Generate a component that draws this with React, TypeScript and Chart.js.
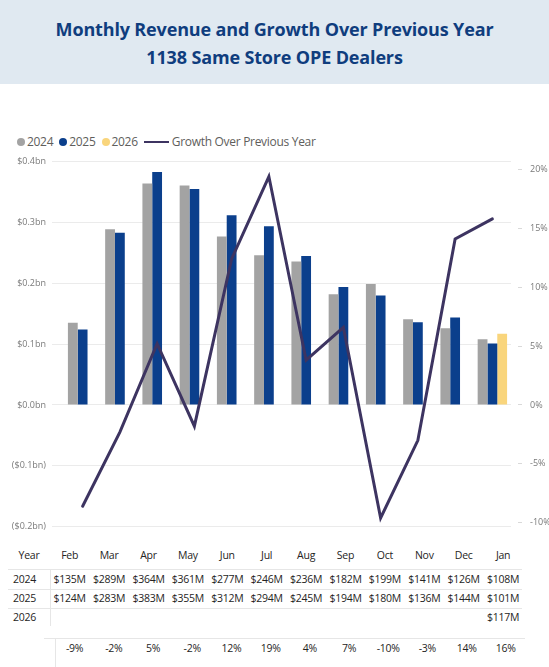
import React, { useEffect, useRef } from 'react';
import { Chart, registerables } from 'chart.js';

Chart.register(...registerables);

// Months shown on the category axis and in the table header
const months = ['Feb', 'Mar', 'Apr', 'May', 'Jun', 'Jul', 'Aug', 'Sep', 'Oct', 'Nov', 'Dec', 'Jan'];

// Monthly revenue in $M
const revenue2024 = [135, 289, 364, 361, 277, 246, 236, 182, 199, 141, 126, 108];
const revenue2025 = [124, 283, 383, 355, 312, 294, 245, 194, 180, 136, 144, 101];
const revenue2026: (number | null)[] = [null, null, null, null, null, null, null, null, null, null, null, 117];

// Growth over previous year, %
const growthPct = [-8.6, -2.3, 5.2, -1.8, 12.4, 19.4, 3.8, 6.6, -9.6, -3.0, 14.1, 15.8];

// Axis ticks
const revenueTicks = [-200, -100, 0, 100, 200, 300, 400];
const growthTicks = [-10, -5, 0, 5, 10, 15, 20];

const FONT = "'Segoe UI', 'Open Sans', sans-serif";
const C2024 = '#a3a3a3';
const C2025 = '#0b3f8c';
const C2026 = '#f9d57c';
const CLINE = '#3d3461';
const GRID = '#ebebeb';

const fmtBn = (v: number) => {
  const s = '$' + (Math.abs(v) / 1000).toFixed(1) + 'bn';
  return v < 0 ? '(' + s + ')' : s;
};
const fmtM = (v: number | null) => (v == null ? '' : '$' + v + 'M');

function RevenueChart() {
  const ref = useRef<HTMLCanvasElement>(null);
  useEffect(() => {
    if (!ref.current) return;
    const chart = new Chart(ref.current, {
      type: 'bar',
      data: {
        labels: months,
        datasets: [
          {
            type: 'line',
            label: 'Growth Over Previous Year',
            data: growthPct,
            yAxisID: 'y1',
            borderColor: CLINE,
            borderWidth: 3,
            pointRadius: 0,
            tension: 0,
            borderCapStyle: 'round',
            order: 0,
          } as any,
          {
            label: '2024',
            data: revenue2024,
            yAxisID: 'y',
            backgroundColor: C2024,
            categoryPercentage: 0.79,
            barPercentage: 1,
            order: 1,
          },
          {
            label: '2025',
            data: revenue2025,
            yAxisID: 'y',
            backgroundColor: C2025,
            categoryPercentage: 0.79,
            barPercentage: 1,
            order: 1,
          },
          {
            label: '2026',
            data: revenue2026,
            yAxisID: 'y',
            backgroundColor: C2026,
            categoryPercentage: 0.79,
            barPercentage: 1,
            order: 1,
          },
        ],
      },
      options: {
        animation: false,
        responsive: false,
        devicePixelRatio: 1,
        layout: { padding: { top: 21.7, bottom: 8.3, left: 0, right: 0 } },
        plugins: { legend: { display: false }, tooltip: { enabled: false } },
        scales: {
          x: { display: false, offset: true, grid: { display: false } },
          y: {
            position: 'left',
            min: -200,
            max: 400,
            afterBuildTicks: (s: any) => {
              s.ticks = revenueTicks.map((v) => ({ value: v }));
            },
            afterFit: (s: any) => {
              s.width = 64;
            },
            border: { display: false },
            grid: { color: GRID, lineWidth: 1, drawTicks: true, tickLength: 12 },
            ticks: {
              padding: 6,
              color: '#7a7a7a',
              font: { family: FONT, size: 9 },
              callback: (v: any) => fmtBn(Number(v)),
            },
          },
          y1: {
            position: 'right',
            min: -10.33,
            max: 20.66,
            afterBuildTicks: (s: any) => {
              s.ticks = growthTicks.map((v) => ({ value: v }));
            },
            afterFit: (s: any) => {
              s.width = 38;
            },
            border: { display: false },
            grid: {
              drawOnChartArea: false,
              drawTicks: true,
              tickLength: 11,
              tickColor: '#d9d9d9',
              tickBorderDash: [0, 7, 4, 0],
            },
            ticks: {
              padding: 8,
              color: '#7a7a7a',
              font: { family: FONT, size: 9 },
              callback: (v: any) => v + '%',
            },
          },
        },
      } as any,
    });
    return () => chart.destroy();
  }, []);
  return (
    <canvas
      ref={ref}
      width={549}
      height={400}
      style={{ position: 'absolute', left: 0, top: 140, width: 549, height: 400, display: 'block' }}
    />
  );
}

function Text({ x, y, text, align = 'center', color = '#252423', size = 10.5 }: any) {
  const w = 80;
  const left = align === 'center' ? x - w / 2 : align === 'right' ? x - w : x;
  return (
    <div
      style={{
        position: 'absolute',
        left,
        top: y - 10,
        width: w,
        height: 20,
        lineHeight: '20px',
        textAlign: align,
        fontSize: size,
        letterSpacing: '-0.25px',
        color,
        whiteSpace: 'nowrap',
      }}
    >
      {text}
    </div>
  );
}

function Line({ x, y, w, h }: any) {
  return <div style={{ position: 'absolute', left: x, top: y, width: w, height: h, background: '#e6e6e6' }} />;
}

function Legend() {
  const dot = (c: string) => (
    <span style={{ display: 'inline-block', width: 8, height: 8, borderRadius: 4, background: c, marginRight: 2 }} />
  );
  const item = { display: 'inline-flex', alignItems: 'center', marginRight: 6 } as const;
  return (
    <div
      style={{
        position: 'absolute',
        left: 17,
        top: 131.7,
        height: 20,
        display: 'flex',
        alignItems: 'center',
        fontSize: 12,
        letterSpacing: '-0.3px',
        color: '#605e5c',
        whiteSpace: 'nowrap',
      }}
    >
      <span style={item}>{dot(C2024)}2024</span>
      <span style={item}>{dot(C2025)}2025</span>
      <span style={item}>{dot(C2026)}2026</span>
      <span style={item}>
        <span style={{ display: 'inline-block', width: 25, height: 2, background: CLINE, marginRight: 3 }} />
        Growth Over Previous Year
      </span>
    </div>
  );
}

function DataTable() {
  const colCenter = (i: number) => 69.7 + 39.4 * i;
  const growthCenter = (i: number) => 74.6 + 39.2 * i;
  const rows: [string, (number | null)[], number][] = [
    ['2024', revenue2024, 579.3],
    ['2025', revenue2025, 598.3],
    ['2026', revenue2026, 617.3],
  ];
  return (
    <>
      <Line x={8} y={569} w={514} h={1} />
      <Line x={8} y={588.5} w={514} h={1} />
      <Line x={8} y={607.5} w={514} h={1} />
      <Line x={50} y={569} w={1} h={57} />
      <Line x={44} y={638} w={481} h={1} />
      <Line x={55} y={639} w={1} h={28} />
      <Text x={29} y={555} text="Year" color="#252423" />
      {months.map((m, i) => (
        <Text key={m} x={colCenter(i)} y={555} text={m} color="#252423" />
      ))}
      {rows.map(([label, vals, y]) => (
        <React.Fragment key={label}>
          <Text x={13} y={y} text={label} align="left" />
          {vals.map((v, i) => (
            <Text key={i} x={colCenter(i)} y={y} text={fmtM(v)} />
          ))}
        </React.Fragment>
      ))}
      {growthPct.map((g, i) => (
        <Text key={i} x={growthCenter(i)} y={648.3} text={Math.round(g) + '%'} />
      ))}
    </>
  );
}

export default function App() {
  return (
    <div
      style={{
        position: 'absolute',
        left: 0,
        top: 0,
        width: 549,
        height: 667,
        background: '#ffffff',
        fontFamily: FONT,
        overflow: 'hidden',
      }}
    >
      <div style={{ position: 'absolute', left: 0, top: 0, width: 549, height: 84, background: '#e0e9f1' }} />
      <div
        style={{
          position: 'absolute',
          left: 0,
          top: 15,
          width: 549,
          textAlign: 'center',
          fontSize: 18,
          letterSpacing: '-0.15px',
          lineHeight: '28px',
          fontWeight: 700,
          color: '#0f3d7e',
        }}
      >
        Monthly Revenue and Growth Over Previous Year
        <br />
        1138 Same Store OPE Dealers
      </div>
      <Legend />
      <RevenueChart />
      <DataTable />
    </div>
  );
}
